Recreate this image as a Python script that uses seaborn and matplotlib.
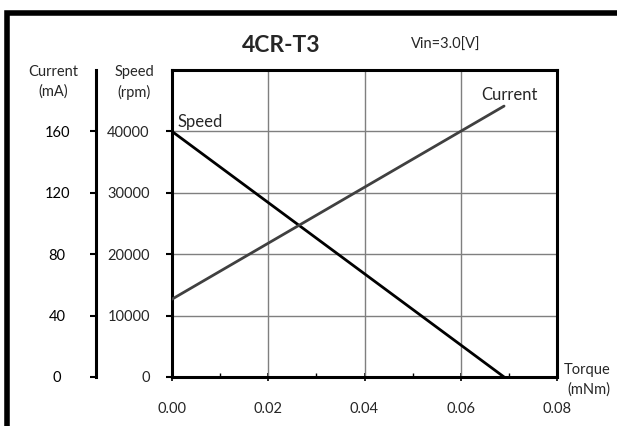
import matplotlib
matplotlib.use("Agg")
import matplotlib.pyplot as plt
import seaborn as sns
import pandas as pd
from matplotlib.ticker import MultipleLocator
from matplotlib.patches import Rectangle

torque = [0.0, 0.069]
speed = [40000, 0]
current = [50.7, 176.5]

x_ticks = [0.00, 0.02, 0.04, 0.06, 0.08]
x_labels = ["0.00", "0.02", "0.04", "0.06", "0.08"]
speed_ticks = [0, 10000, 20000, 30000, 40000]
current_ticks = [0, 40, 80, 120, 160]

title = "4CR-T3"
vin = "Vin=3.0[V]"

sns.set_theme(style="white")
plt.rcParams['font.family'] = ['Lato', 'DejaVu Sans']

fig = plt.figure(figsize=(6.17, 4.26), dpi=100)
W, H = 617, 426
ax = fig.add_axes([172 / W, 1 - 377 / H, (557 - 172) / W, (377 - 70) / H])

df_s = pd.DataFrame({"torque": torque, "speed": speed})
df_c = pd.DataFrame({"torque": torque, "current": current})

ax.set_xlim(0, 0.08)
ax.set_ylim(0, 50000)
ax.set_xticks(x_ticks)
ax.set_xticklabels(x_labels)
ax.set_yticks(speed_ticks)
ax.set_yticklabels([str(v) for v in speed_ticks])
ax.xaxis.set_minor_locator(MultipleLocator(0.01))
for v in [0.02, 0.04, 0.06]:
    ax.axvline(v, color="#7f7f7f", lw=1.0, zorder=1)
for v in [10000, 20000, 30000, 40000]:
    ax.axhline(v, color="#7f7f7f", lw=1.0, zorder=1)

sns.lineplot(data=df_s, x="torque", y="speed", ax=ax, color="black", lw=2.0, zorder=3)

ax2 = ax.twinx()
ax2.set_ylim(0, 200)
sns.lineplot(data=df_c, x="torque", y="current", ax=ax2, color="#404040", lw=2.0, zorder=3)
ax2.spines['right'].set_visible(False)
ax2.spines['top'].set_visible(False)
ax2.spines['bottom'].set_visible(False)
ax2.spines['left'].set_visible(True)
ax2.spines['left'].set_position(('axes', -(172 - 96) / (557 - 172)))
ax2.spines['left'].set_linewidth(2.2)
ax2.spines['left'].set_color("black")
ax2.yaxis.set_ticks_position('left')
ax2.yaxis.set_label_position('left')
ax2.set_yticks(current_ticks)
ax2.set_yticklabels([str(v) for v in current_ticks])
ax2.tick_params(axis='y', direction='out', length=4, width=1.5, color='black',
                labelsize=10.5, pad=24, labelcolor='black', left=True)
for lbl in ax2.get_yticklabels():
    lbl.set_horizontalalignment("center")
ax2.set_ylabel("")
ax2.set_xlabel("")

for s in ax.spines.values():
    s.set_linewidth(2.2)
    s.set_color("black")
ax.tick_params(axis='x', which='major', direction='inout', length=6, width=1.2,
               color='black', labelsize=10.5, pad=15, bottom=True)
ax.tick_params(axis='x', which='minor', direction='in', length=3, width=1.0,
               color='black', bottom=True)
ax.tick_params(axis='y', direction='out', length=4, width=1.5, color='black',
               labelsize=10.5, pad=12, left=True)
ax.set_xlabel("")
ax.set_ylabel("")

ax.text(0.0012, 41600, "Speed", fontsize=12, ha="left", va="center")
ax2.text(0.0702, 183.5, "Current", fontsize=12, ha="center", va="center")

fig.text(281 / W, 1 - 45 / H, title, fontsize=16.5, fontweight="bold", ha="center", va="center")
fig.text(446 / W, 1 - 45 / H, vin, fontsize=10.5, ha="center", va="center")
fig.text(53 / W, 1 - 72 / H, "Current", fontsize=10.5, ha="center", va="center")
fig.text(53 / W, 1 - 92 / H, "(mA)", fontsize=10.5, ha="center", va="center")
fig.text(134 / W, 1 - 72 / H, "Speed", fontsize=10.5, ha="center", va="center")
fig.text(134 / W, 1 - 92 / H, "(rpm)", fontsize=10.5, ha="center", va="center")
fig.text(587 / W, 1 - 370 / H, "Torque", fontsize=10.5, ha="center", va="center")
fig.text(589 / W, 1 - 390 / H, "(mNm)", fontsize=10.5, ha="center", va="center")

fig.add_artist(Rectangle((7 / W, -0.05), 1.05, 1 - 13 / H + 0.05, transform=fig.transFigure,
                         fill=False, edgecolor="black", lw=4))

fig.savefig("out.png", dpi=100)
